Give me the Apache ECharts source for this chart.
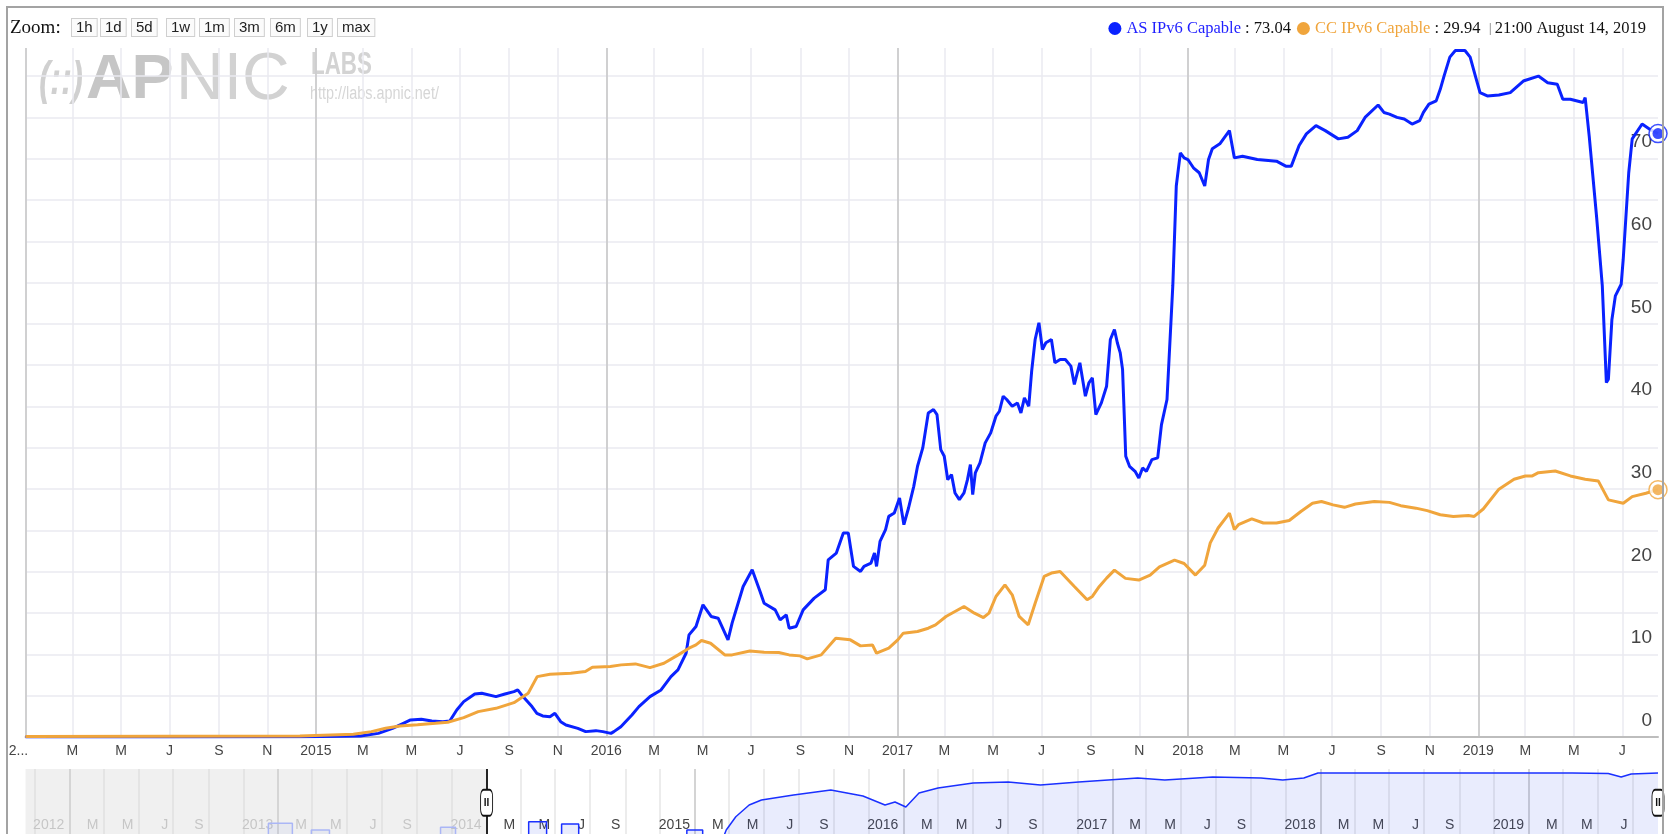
<!DOCTYPE html>
<html>
<head>
<meta charset="utf-8">
<title>AS / CC IPv6 Capable</title>
<script src="https://cdn.jsdelivr.net/npm/echarts@6/dist/echarts.min.js"></script>
<style>
html, body { margin: 0; padding: 0; background: #fff; }
#chart { width: 1671px; height: 834px; }
</style>
</head>
<body>
<div id="chart"></div>
<script>
// time is kept as decimal years, values are percent
const asName = 'AS IPv6 Capable';
const ccName = 'CC IPv6 Capable';
const stampText = '21:00 August 14, 2019';

const asT = [
  2014.000, 2014.500, 2014.950, 2015.154, 2015.215, 2015.264, 2015.301, 2015.326, 2015.363, 2015.399,
  2015.437, 2015.461, 2015.485, 2015.509, 2015.547, 2015.571, 2015.620, 2015.651, 2015.682, 2015.695,
  2015.713, 2015.744, 2015.761, 2015.781, 2015.806, 2015.823, 2015.843, 2015.861, 2015.902, 2015.929,
  2015.964, 2015.988, 2016.016, 2016.026, 2016.050, 2016.088, 2016.112, 2016.150, 2016.188, 2016.222,
  2016.246, 2016.274, 2016.284, 2016.308, 2016.332, 2016.360, 2016.384, 2016.418, 2016.432, 2016.470,
  2016.501, 2016.528, 2016.542, 2016.580, 2016.597, 2016.618, 2016.628, 2016.652, 2016.676, 2016.714,
  2016.752, 2016.762, 2016.790, 2016.814, 2016.831, 2016.849, 2016.873, 2016.885, 2016.909, 2016.921,
  2016.928, 2016.940, 2016.959, 2016.970, 2016.989, 2017.007, 2017.022, 2017.038, 2017.056, 2017.069,
  2017.087, 2017.106, 2017.124, 2017.136, 2017.149, 2017.161, 2017.173, 2017.186, 2017.198, 2017.213,
  2017.229, 2017.241, 2017.251, 2017.259, 2017.268, 2017.284, 2017.302, 2017.321, 2017.339, 2017.351,
  2017.364, 2017.376, 2017.395, 2017.413, 2017.425, 2017.437, 2017.452, 2017.462, 2017.474, 2017.487,
  2017.499, 2017.511, 2017.530, 2017.542, 2017.560, 2017.578, 2017.597, 2017.609, 2017.628, 2017.647,
  2017.659, 2017.671, 2017.683, 2017.702, 2017.720, 2017.733, 2017.747, 2017.757, 2017.767, 2017.775,
  2017.786, 2017.799, 2017.818, 2017.831, 2017.844, 2017.857, 2017.876, 2017.896, 2017.909, 2017.928,
  2017.948, 2017.960, 2017.974, 2017.987, 2018.000, 2018.019, 2018.039, 2018.058, 2018.071, 2018.084,
  2018.110, 2018.143, 2018.160, 2018.188, 2018.239, 2018.305, 2018.337, 2018.356, 2018.383, 2018.408,
  2018.441, 2018.473, 2018.518, 2018.551, 2018.583, 2018.610, 2018.655, 2018.675, 2018.694, 2018.720,
  2018.745, 2018.772, 2018.798, 2018.811, 2018.830, 2018.855, 2018.869, 2018.882, 2018.902, 2018.921,
  2018.954, 2018.972, 2018.990, 2019.006, 2019.031, 2019.071, 2019.110, 2019.155, 2019.207, 2019.239,
  2019.272, 2019.291, 2019.317, 2019.361, 2019.368, 2019.382, 2019.408, 2019.427, 2019.441, 2019.448,
  2019.460, 2019.472, 2019.492, 2019.499, 2019.518, 2019.530, 2019.564, 2019.589, 2019.6188
];
const asV = [
  0.00, 0.00, 0.03, 0.12, 0.44, 1.05, 1.66, 2.06, 2.14, 1.94,
  1.86, 1.94, 3.27, 4.28, 5.21, 5.29, 4.89, 5.21, 5.49, 5.70,
  4.89, 3.68, 2.87, 2.55, 2.46, 2.87, 1.86, 1.45, 1.05, 0.65,
  0.77, 0.65, 0.44, 0.65, 1.25, 2.67, 3.68, 4.89, 5.70, 7.31,
  8.12, 10.14, 12.36, 13.37, 16.00, 14.59, 14.38, 11.76, 13.78, 18.22,
  20.24, 17.62, 16.20, 15.39, 14.18, 14.79, 13.17, 13.37, 15.39, 16.81,
  17.82, 21.45, 22.26, 24.69, 24.69, 20.65, 20.04, 20.65, 21.05, 22.26,
  20.65, 23.68, 25.09, 26.71, 27.11, 28.93, 25.70, 27.72, 30.34, 32.77,
  34.99, 39.23, 39.64, 39.03, 34.79, 33.98, 31.15, 31.76, 29.54, 28.73,
  29.54, 31.15, 32.97, 29.33, 31.96, 33.17, 35.60, 36.81, 38.83, 39.43,
  41.25, 40.85, 40.04, 40.44, 39.23, 41.05, 40.04, 44.28, 48.12, 50.14,
  46.91, 47.72, 48.12, 45.29, 45.70, 45.70, 44.89, 42.67, 45.29, 41.25,
  42.87, 43.47, 39.03, 40.44, 42.46, 48.12, 49.33, 47.72, 46.50, 44.50,
  33.98, 32.77, 32.16, 31.35, 32.57, 32.16, 33.58, 33.78, 37.82, 40.85,
  54.60, 66.70, 70.70, 70.10, 69.90, 68.90, 68.30, 66.70, 69.90, 71.20,
  71.80, 73.40, 70.10, 70.30, 69.90, 69.70, 69.10, 69.10, 71.60, 73.00,
  74.00, 73.40, 72.40, 72.60, 73.40, 75.00, 76.50, 75.60, 75.40, 75.00,
  74.80, 74.20, 74.60, 75.60, 76.60, 77.00, 78.40, 80.00, 82.30, 83.10,
  83.10, 82.30, 80.00, 78.00, 77.60, 77.70, 78.00, 79.40, 80.00, 79.20,
  79.00, 77.20, 77.20, 76.80, 77.40, 72.70, 62.70, 54.60, 42.90, 43.30,
  50.50, 53.40, 54.80, 57.80, 68.30, 72.40, 74.20, 73.60, 73.04
];

const ccT = [
  2014.000, 2014.500, 2014.945, 2015.129, 2015.191, 2015.240, 2015.289, 2015.350, 2015.412, 2015.454,
  2015.509, 2015.559, 2015.620, 2015.682, 2015.731, 2015.762, 2015.806, 2015.878, 2015.928, 2015.952,
  2016.014, 2016.051, 2016.100, 2016.150, 2016.198, 2016.247, 2016.284, 2016.308, 2016.327, 2016.358,
  2016.407, 2016.432, 2016.493, 2016.542, 2016.592, 2016.628, 2016.665, 2016.690, 2016.738, 2016.788,
  2016.838, 2016.873, 2016.914, 2016.928, 2016.970, 2017.001, 2017.020, 2017.069, 2017.106, 2017.131,
  2017.167, 2017.229, 2017.265, 2017.296, 2017.315, 2017.339, 2017.370, 2017.395, 2017.419, 2017.450,
  2017.474, 2017.505, 2017.530, 2017.560, 2017.609, 2017.653, 2017.671, 2017.695, 2017.720, 2017.747,
  2017.785, 2017.831, 2017.870, 2017.902, 2017.954, 2017.987, 2018.026, 2018.058, 2018.077, 2018.104,
  2018.143, 2018.160, 2018.174, 2018.220, 2018.260, 2018.305, 2018.349, 2018.389, 2018.429, 2018.460,
  2018.500, 2018.539, 2018.577, 2018.642, 2018.694, 2018.733, 2018.785, 2018.824, 2018.869, 2018.914,
  2018.966, 2018.986, 2019.017, 2019.071, 2019.123, 2019.162, 2019.186, 2019.207, 2019.265, 2019.317,
  2019.368, 2019.413, 2019.448, 2019.499, 2019.530, 2019.577, 2019.6188
];
const ccV = [
  0.05, 0.08, 0.12, 0.32, 0.65, 1.05, 1.33, 1.49, 1.66, 1.78,
  2.34, 3.07, 3.47, 4.16, 5.29, 7.31, 7.60, 7.72, 7.92, 8.44,
  8.53, 8.73, 8.85, 8.40, 8.93, 9.94, 10.75, 11.15, 11.68, 11.35,
  9.94, 9.94, 10.42, 10.26, 10.22, 9.94, 9.82, 9.45, 9.94, 11.96,
  11.76, 11.03, 11.15, 10.14, 10.75, 11.76, 12.57, 12.77, 13.17, 13.58,
  14.59, 15.80, 14.99, 14.46, 14.99, 17.01, 18.42, 17.21, 14.59, 13.58,
  16.20, 19.43, 19.84, 20.04, 18.22, 16.61, 17.01, 18.22, 19.23, 20.20,
  19.20, 19.00, 19.60, 20.60, 21.40, 21.00, 19.60, 20.80, 23.50, 25.30,
  27.10, 25.10, 25.70, 26.40, 25.90, 25.90, 26.20, 27.30, 28.30, 28.50,
  28.10, 27.80, 28.20, 28.50, 28.40, 28.00, 27.70, 27.40, 26.90, 26.70,
  26.80, 26.70, 27.60, 30.00, 31.20, 31.60, 31.60, 32.00, 32.20, 31.60,
  31.20, 31.00, 28.70, 28.30, 29.10, 29.50, 29.94
];

// navigator strip: height of its line on its own 0-100 scale
const navT = [
  2011.790, 2012.953, 2012.953, 2013.068, 2013.068, 2013.159, 2013.159, 2013.246, 2013.246, 2013.779,
  2013.779, 2013.851, 2013.851, 2014.000, 2014.202, 2014.202, 2014.288, 2014.288, 2014.360, 2014.360,
  2014.442, 2014.442, 2014.961, 2014.961, 2015.037, 2015.037, 2015.124, 2015.150, 2015.196, 2015.260,
  2015.319, 2015.473, 2015.652, 2015.806, 2015.912, 2015.960, 2016.012, 2016.075, 2016.166, 2016.334,
  2016.502, 2016.656, 2016.839, 2017.122, 2017.252, 2017.482, 2017.713, 2017.818, 2017.919, 2017.987,
  2018.390, 2018.870, 2019.207, 2019.380, 2019.442, 2019.490, 2019.6188
];
const navV = [
  0, 0, 27.6, 27.6, 0, 0, 18.7, 18.7, 0, 0,
  22.2, 22.2, 0, 0, 0, 29.8, 29.8, 0, 0, 26.7,
  26.7, 0, 0, 18.7, 18.7, 0, 0, 18.7, 36.4, 52,
  58.7, 65.3, 72, 64, 52, 56, 49.3, 68, 74.7, 81.3,
  82.7, 78.7, 82.7, 88, 85.3, 89.3, 88, 85.3, 88, 94.7,
  94.7, 94.7, 94.7, 94, 89.3, 93.3, 94.7
];

const yGridValues = [0, 5, 10, 15, 20, 25, 30, 35, 40, 45, 50, 55, 60, 65, 70, 75, 80];
const yLabelValues = [0, 10, 20, 30, 40, 50, 60, 70];
const monthLetters = ['J', 'F', 'M', 'A', 'M', 'J', 'J', 'A', 'S', 'O', 'N', 'D'];
const tickMonths = [0, 2, 4, 6, 8, 10];
const mainYears = [2014, 2015, 2016, 2017, 2018, 2019];
const navYears = [2011, 2012, 2013, 2014, 2015, 2016, 2017, 2018, 2019];
const zoomButtons = ['1h', '1d', '5d', '1w', '1m', '3m', '6m', '1y', 'max'];

const AS_COLOR = '#0a22ff';
const CC_COLOR = '#f0a53c';

function toTime(t) {
  const y = Math.floor(t);
  const a = Date.UTC(y, 0, 1), b = Date.UTC(y + 1, 0, 1);
  return a + (t - y) * (b - a);
}
function pairs(ts, vs) {
  return ts.map((t, i) => [toTime(t), vs[i]]);
}

const asData = pairs(asT, asV);
const ccData = pairs(ccT, ccV);
const navData = pairs(navT, navV);
const startTime = Date.UTC(2014, 0, 1);
const endTime = asData[asData.length - 1][0];
const navStart = navData[0][0];
const navOld = navData.filter(d => d[0] <= startTime);
const navNew = navData.filter(d => d[0] >= startTime);

function monthTicks(years, from, to) {
  let out = [];
  years.forEach(y => tickMonths.forEach(m => {
    let v = Date.UTC(y, m, 1);
    if (v >= from && v <= to) out.push(v);
  }));
  return out;
}
function yearTicks(years, from, to) {
  return years.map(y => Date.UTC(y, 0, 1)).filter(v => v >= from && v <= to);
}

const mainTicks = monthTicks(mainYears, startTime, endTime);
const mainYearTicks = yearTicks(mainYears, startTime, endTime);
const navTicks = monthTicks(navYears, navStart, endTime);
const navYearTicks = yearTicks(navYears, navStart, endTime);

const sans = 'Liberation Sans, Arial, sans-serif';
const serif = 'Liberation Serif, Times New Roman, serif';

// top-left zoom buttons, left edges
const buttonX = [72, 101, 132, 167, 200, 235, 271, 308, 338];
let graphics = [
  {
    type: 'text', x: 10, y: 28, silent: true,
    style: {text: 'Zoom:', font: '19px ' + serif, fill: '#111', align: 'left', verticalAlign: 'middle'}
  }
];
zoomButtons.forEach((b, i) => {
  graphics.push({
    type: 'text', x: buttonX[i], y: 19, silent: true,
    style: {
      text: b, font: '15px ' + sans, fill: '#222', align: 'left', verticalAlign: 'top',
      backgroundColor: '#fbfbfb', borderColor: '#cfcfcf', borderWidth: 1, padding: [1, 4, 1, 4]
    }
  });
});
// watermark logo
graphics.push(
  {type: 'text', x: 39, y: 81, z: -1, silent: true, scaleX: 0.72,
   style: {text: '(::)', font: 'italic bold 46px ' + sans, fill: '#d0d0d0', verticalAlign: 'middle'}},
  {type: 'text', x: 86, y: 81, z: -1, silent: true,
   style: {text: 'AP', font: 'bold 63px ' + sans, fill: '#c6c6c6', verticalAlign: 'middle'}},
  {type: 'text', x: 176, y: 81, z: -1, silent: true,
   style: {text: 'NIC', font: '66px ' + sans, fill: '#d2d2d2', verticalAlign: 'middle'}},
  {type: 'text', x: 311, y: 65, z: -1, silent: true, scaleX: 0.7,
   style: {text: 'LABS', font: 'bold 32px ' + sans, fill: '#d3d3d3', verticalAlign: 'middle'}},
  {type: 'text', x: 310, y: 94, z: -1, silent: true, scaleX: 0.8,
   style: {text: 'http://labs.apnic.net/', font: '18px ' + sans, fill: '#d6d6d6', verticalAlign: 'middle'}},
  {type: 'rect', silent: true, z: 50,
   shape: {x: 7, y: 7, width: 1656, height: 900},
   style: {fill: 'none', stroke: '#a3a3a3', lineWidth: 2}}
);

function mainLabel(value) {
  const d = new Date(value);
  const m = d.getUTCMonth();
  if (m === 0) {
    return d.getUTCFullYear() === mainYears[0] ? '{f|2...}' : String(d.getUTCFullYear());
  }
  return monthLetters[m];
}
function navLabel(value) {
  const d = new Date(value);
  const m = d.getUTCMonth();
  if (m === 10) return '';
  const txt = m === 0 ? String(d.getUTCFullYear()) : monthLetters[m];
  return value <= startTime ? '{d|' + txt + '}' : txt;
}

const lastAs = asV[asV.length - 1].toFixed(2);
const lastCc = ccV[ccV.length - 1].toFixed(2);

const option = {
  animation: false,
  backgroundColor: '#fff',
  graphic: graphics,
  legend: {
    right: 20, top: 15, icon: 'circle', itemWidth: 13, itemHeight: 13, itemGap: 6,
    selectedMode: false,
    data: [asName, ccName],
    formatter: function (name) {
      if (name === asName) return '{as|' + name + '}{v| : ' + lastAs + '}';
      return '{cc|' + name + '}{v| : ' + lastCc + '  }{sep||}{v|' + stampText + '}';
    },
    textStyle: {
      fontFamily: serif, fontSize: 16.5, color: '#111',
      rich: {
        as: {color: '#1f1fff', fontFamily: serif, fontSize: 16.5},
        cc: {color: CC_COLOR, fontFamily: serif, fontSize: 16.5},
        v: {color: '#111', fontFamily: serif, fontSize: 16.5},
        sep: {color: '#999', fontFamily: sans, fontSize: 12, padding: [0, 3, 0, 0]}
      }
    }
  },
  grid: [
    {left: 25.5, right: 13, top: 48, height: 689, outerBoundsMode: 'none'},
    {left: 25.5, right: 13, top: 769, height: 75, outerBoundsMode: 'none'}
  ],
  xAxis: [
    {
      type: 'value', gridIndex: 0, min: startTime, max: endTime,
      axisLine: {show: true, lineStyle: {color: '#bdbdbd', width: 2}},
      axisTick: {show: false, customValues: mainTicks},
      axisLabel: {
        customValues: mainTicks, formatter: mainLabel, margin: 7,
        color: '#444', fontSize: 14, fontFamily: sans,
        rich: {f: {padding: [0, 14, 0, 0], color: '#444', fontSize: 14, fontFamily: sans}}
      },
      splitLine: {show: true, lineStyle: {color: '#eaeaf0', width: 1.5}}
    },
    {
      type: 'value', gridIndex: 0, min: startTime, max: endTime,
      axisLine: {show: false},
      axisTick: {show: false, customValues: mainYearTicks},
      axisLabel: {show: false, customValues: mainYearTicks},
      splitLine: {show: true, lineStyle: {color: '#c6c6c6', width: 1.5}}
    },
    {
      type: 'value', gridIndex: 1, min: navStart, max: endTime,
      axisLine: {show: false},
      axisTick: {show: false, customValues: navTicks},
      axisLabel: {
        customValues: navTicks, formatter: navLabel, inside: true, margin: 12,
        align: 'right', padding: [0, 5, 0, 0],
        color: '#444', fontSize: 14, fontFamily: sans,
        rich: {d: {color: '#bcbcbc', fontSize: 14, fontFamily: sans}}
      },
      splitLine: {show: true, lineStyle: {color: '#e6e6e6', width: 1.5}}
    },
    {
      type: 'value', gridIndex: 1, min: navStart, max: endTime,
      axisLine: {show: false},
      axisTick: {show: false, customValues: navYearTicks},
      axisLabel: {show: false, customValues: navYearTicks},
      splitLine: {show: true, lineStyle: {color: '#cccccc', width: 1.5}}
    }
  ],
  yAxis: [
    {
      type: 'value', gridIndex: 0, position: 'right', min: 0, max: 83.4,
      axisLine: {show: false},
      axisTick: {show: false, customValues: yGridValues},
      splitLine: {show: true, lineStyle: {color: '#eaeaf0', width: 1.5}},
      axisLabel: {
        customValues: yLabelValues, inside: true, margin: 6,
        color: '#444', fontSize: 19, fontFamily: sans,
        verticalAlign: 'bottom', padding: [0, 0, 7, 0]
      }
    },
    {type: 'value', gridIndex: 1, min: 0, max: 100, show: false}
  ],
  series: [
    {
      name: asName, type: 'line', xAxisIndex: 0, yAxisIndex: 0, data: asData,
      color: AS_COLOR, symbol: 'none', showSymbol: false,
      lineStyle: {color: AS_COLOR, width: 3}, silent: true
    },
    {
      name: ccName, type: 'line', xAxisIndex: 0, yAxisIndex: 0, data: ccData,
      color: CC_COLOR, symbol: 'none', showSymbol: false,
      lineStyle: {color: CC_COLOR, width: 3}, silent: true
    },
    {
      type: 'scatter', xAxisIndex: 0, yAxisIndex: 0, data: [asData[asData.length - 1]],
      symbolSize: 18, clip: false, silent: true, z: 5,
      itemStyle: {color: '#fff', borderColor: AS_COLOR, borderWidth: 1.5}
    },
    {
      type: 'scatter', xAxisIndex: 0, yAxisIndex: 0, data: [asData[asData.length - 1]],
      symbolSize: 11, clip: false, silent: true, z: 6, itemStyle: {color: AS_COLOR}
    },
    {
      type: 'scatter', xAxisIndex: 0, yAxisIndex: 0, data: [ccData[ccData.length - 1]],
      symbolSize: 18, clip: false, silent: true, z: 5,
      itemStyle: {color: '#fff', borderColor: CC_COLOR, borderWidth: 1.5}
    },
    {
      type: 'scatter', xAxisIndex: 0, yAxisIndex: 0, data: [ccData[ccData.length - 1]],
      symbolSize: 11, clip: false, silent: true, z: 6, itemStyle: {color: CC_COLOR}
    },
    {
      type: 'line', xAxisIndex: 2, yAxisIndex: 1, data: navOld,
      symbol: 'none', showSymbol: false, silent: true,
      lineStyle: {color: '#aab6f6', width: 1.5},
      areaStyle: {color: 'rgba(60,90,240,0.07)'},
      markArea: {
        silent: true,
        itemStyle: {color: 'rgba(215,215,215,0.38)'},
        data: [[{xAxis: navStart}, {xAxis: startTime}]]
      }
    },
    {
      type: 'line', xAxisIndex: 2, yAxisIndex: 1, data: navNew,
      symbol: 'none', showSymbol: false, silent: true,
      lineStyle: {color: '#1a30ff', width: 1.5},
      areaStyle: {color: 'rgba(60,90,240,0.16)'},
      markLine: {
        silent: true, symbol: ['none', 'none'],
        label: {show: false},
        lineStyle: {color: '#111', width: 1.8, type: 'solid'},
        data: [{xAxis: startTime}, {xAxis: endTime}]
      },
      markPoint: {
        silent: true, symbol: 'roundRect', symbolSize: [12, 26],
        itemStyle: {color: '#fff', borderColor: '#111', borderWidth: 1.3},
        label: {show: true, formatter: 'II', color: '#111', fontSize: 10, fontFamily: sans, fontWeight: 'bold'},
        data: [{coord: [startTime, 55]}, {coord: [endTime, 55]}]
      }
    }
  ]
};

const chart = echarts.init(document.getElementById('chart'));
chart.setOption(option);
</script>
</body>
</html>
